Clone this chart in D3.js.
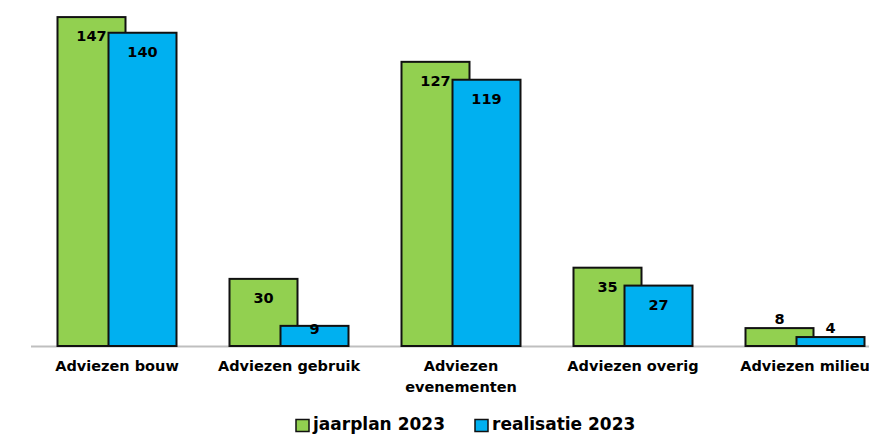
<!DOCTYPE html>
<html>
<head>
<meta charset="utf-8">
<script src="https://cdn.jsdelivr.net/npm/d3@7"></script>
<style>
  body { margin: 0; background: #fff; }
  text { font-family: "DejaVu Sans", Verdana, sans-serif; font-weight: bold; }
</style>
</head>
<body>
<div id="chart"></div>
<script>
// data
var categories = ["Adviezen bouw", "Adviezen gebruik", "Adviezen evenementen", "Adviezen overig", "Adviezen milieu"];
var categoryLines = [["Adviezen bouw"], ["Adviezen gebruik"], ["Adviezen", "evenementen"], ["Adviezen overig"], ["Adviezen milieu"]];
var seriesNames = ["jaarplan 2023", "realisatie 2023"];
var jaarplan = [147, 30, 127, 35, 8];
var realisatie = [140, 9, 119, 27, 4];
var colors = ["#92D050", "#00B0F0"];

var svgWidth = 869, svgHeight = 434;
var baseY = 346;

var svg = d3.select("#chart")
  .append("svg")
  .attr("width", svgWidth)
  .attr("height", svgHeight);

// x scale runs past the right edge, the last group is clipped like the original
var x = d3.scaleBand()
  .domain(categories)
  .range([31, 891]);

var y = d3.scaleLinear()
  .domain([0, 150])
  .range([baseY, baseY - 150 * 2.2375]);

var barW = 68, overlap = 17;
var groupW = barW * 2 - overlap;

var series = [jaarplan, realisatie];

// axis line
svg.append("line")
  .attr("x1", 31).attr("x2", svgWidth)
  .attr("y1", baseY + 0.5).attr("y2", baseY + 0.5)
  .attr("stroke", "#bfbfbf")
  .attr("stroke-width", 2);

series.forEach(function(vals, i) {
  var g = svg.append("g");
  g.selectAll("rect")
    .data(vals)
    .enter()
    .append("rect")
    .attr("x", (d, j) => x(categories[j]) + x.bandwidth() / 2 - groupW / 2 + i * (barW - overlap))
    .attr("y", d => y(d))
    .attr("width", barW)
    .attr("height", d => y(0) - y(d))
    .attr("fill", colors[i])
    .attr("stroke", "#111")
    .attr("stroke-width", 2);
});

// value labels
series.forEach(function(vals, i) {
  svg.append("g").selectAll("text")
    .data(vals)
    .enter()
    .append("text")
    .attr("x", (d, j) => x(categories[j]) + x.bandwidth() / 2 - groupW / 2 + i * (barW - overlap) + barW / 2)
    .attr("y", function(d) {
      var h = y(0) - y(d);
      if (h > 50) return y(d) + 24;
      if (h > 19) return y(d) + 8;
      return y(d) - 4.5;
    })
    .attr("text-anchor", "middle")
    .attr("font-size", "14.5px")
    .attr("fill", "#000")
    .text(d => d);
});

// category labels
var catG = svg.append("g");
categoryLines.forEach(function(lines, j) {
  var t = catG.append("text")
    .attr("x", x(categories[j]) + x.bandwidth() / 2)
    .attr("y", 371)
    .attr("text-anchor", "middle")
    .attr("font-size", "14.5px")
    .attr("fill", "#000");
  lines.forEach(function(l, k) {
    t.append("tspan")
      .attr("x", x(categories[j]) + x.bandwidth() / 2)
      .attr("dy", k === 0 ? 0 : 20.5)
      .text(l);
  });
});

// legend
var legendX = [296, 475];
seriesNames.forEach(function(name, i) {
  svg.append("rect")
    .attr("x", legendX[i]).attr("y", 419.5)
    .attr("width", 13).attr("height", 12)
    .attr("fill", colors[i])
    .attr("stroke", "#111")
    .attr("stroke-width", 1.5);
  svg.append("text")
    .attr("x", legendX[i] + 17)
    .attr("y", 430)
    .attr("font-size", "17px")
    .attr("fill", "#000")
    .text(name);
});
</script>
</body>
</html>
